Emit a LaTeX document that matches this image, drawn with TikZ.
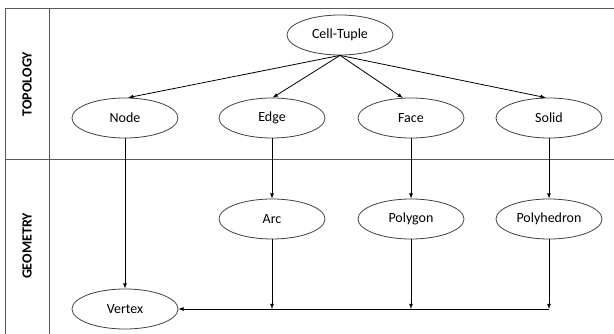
\documentclass[tikz,border=0pt]{standalone}
\usepackage{fontspec}
\setmainfont{Carlito}
\usepackage{tikz}
\usetikzlibrary{positioning,shapes,calc}
\usetikzlibrary{arrows}
\tikzset{
  basic/.style  = {draw=black!75, ellipse, line width=0.8pt, inner sep=0pt,
                   minimum width=106pt, minimum height=40pt,
                   font=\fontsize{14}{16}\selectfont},
  root/.style   = {basic},
  topo/.style   = {basic},
  geom/.style   = {basic},
  band/.style   = {rotate=90, font=\fontsize{14}{16}\selectfont\bfseries},
  frame/.style  = {draw=black!65, line width=0.8pt}
}

\begin{document}
\begin{tikzpicture}[x=1pt, y=-1pt, >=latex, line width=0.8pt]
        \useasboundingbox (0,0) rectangle (614,334);
        % frame of the two bands
        \draw[frame] (5,334) -- (5,8) -- (614,8);
        \draw[frame] (49,8) -- (49,334);
        \draw[frame] (5,159) -- (614,159);
        \node[band] (top) at (27,84) {TOPOLOGY};
        \node[band] (geo) at (27,246) {GEOMETRY};
        % root of the topology
        \node[root] (ct) at (340,35) {Cell-Tuple};
        % the topology level
        \node[topo] (nd) at (125,118) {Node};
        \node[topo] (ed) at (272,118) {Edge};
        \node[topo] (fc) at (411,118) {Face};
        \node[topo] (sl) at (549,118) {Solid};
        % the geometry level
        \node[geom] (ar) at (272,219) {Arc};
        \node[geom] (pg) at (411,219) {Polygon};
        \node[geom] (ph) at (549,219) {Polyhedron};
        \node[geom] (vx) at (125,309) {Vertex};
        % lines from the root to every topology node
        \foreach \value/\ang in {nd/81,ed/88,fc/112,sl/99}
        \draw[->] (ct.south) -- (\value.\ang);
        % lines down to the geometry
        \draw[->] (nd.south) -- (vx.north);
        \draw[->] (ed.south) -- (ar.north);
        \draw[->] (fc.south) -- (pg.north);
        \draw[->] (sl.south) -- (ph.north);
        \foreach \value in {ar,pg,ph}
        \draw[->] (\value.south) -- (\value |- vx);
        \draw[->] (ph |- vx) -- (vx.east);
      \end{tikzpicture}
\end{document}
